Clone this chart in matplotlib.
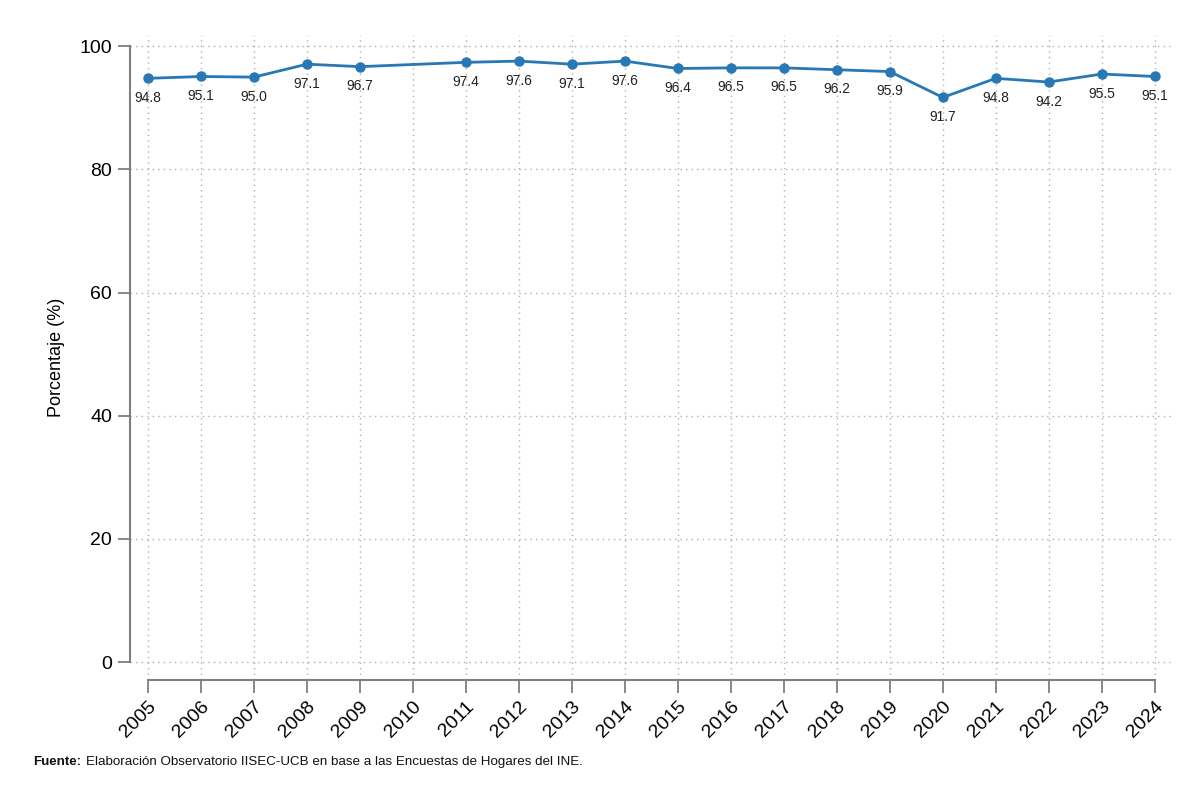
import matplotlib
matplotlib.use("Agg")
import matplotlib.pyplot as plt
from matplotlib import font_manager

years = [2005, 2006, 2007, 2008, 2009, 2011, 2012, 2013, 2014, 2015,
         2016, 2017, 2018, 2019, 2020, 2021, 2022, 2023, 2024]
values = [94.8, 95.1, 95.0, 97.1, 96.7, 97.4, 97.6, 97.1, 97.6, 96.4,
          96.5, 96.5, 96.2, 95.9, 91.7, 94.8, 94.2, 95.5, 95.1]
xticks = list(range(2005, 2025))
yticks = [0, 20, 40, 60, 80, 100]

names = {f.name for f in font_manager.fontManager.ttflist}
fam = "Liberation Sans Narrow" if "Liberation Sans Narrow" in names else "Liberation Sans"
plt.rcParams['font.family'] = [fam, 'DejaVu Sans']

fig = plt.figure(figsize=(12, 8.01), dpi=100)
ax = fig.add_axes([0.1083, 0.151, 0.869, 0.805])

line_c = '#2878b5'
ax.plot(years, values, color=line_c, lw=2, marker='o', ms=6.5, zorder=3)
for x, v in zip(years, values):
    ax.annotate(f"{v:.1f}", (x, v), xytext=(0, -9), textcoords='offset points',
                ha='center', va='top', fontsize=10, color='#222222')

ax.set_xlim(2004.66, 2024.34)
ax.set_ylim(-2.92, 101.8)
ax.set_xticks(xticks)
ax.set_xticklabels([str(y) for y in xticks], rotation=45, ha='right',
                   rotation_mode='anchor', fontsize=14)
ax.set_yticks(yticks)
ax.set_yticklabels([str(y) for y in yticks], fontsize=14)
ax.set_ylabel("Porcentaje (%)", fontsize=13, labelpad=10)

ax.grid(True, color='#b0b0b0', linestyle=(0, (1, 3)), lw=1)
ax.set_axisbelow(True)
for s in ['top', 'right']:
    ax.spines[s].set_visible(False)
for s in ['left', 'bottom']:
    ax.spines[s].set_color('#7f7f7f')
    ax.spines[s].set_linewidth(1.5)
ax.spines['left'].set_bounds(0, 100)
ax.spines['bottom'].set_bounds(2005, 2024)
ax.tick_params(axis='both', direction='out', length=9, width=1.3, color='#7f7f7f', pad=4)

t1 = fig.text(0.028, 0.045, "Fuente:", fontsize=9.6, fontweight='bold', color='#111111')
fig.canvas.draw()
bb = t1.get_window_extent()
fig.text((bb.x1 + 4) / fig.bbox.width, 0.045,
         "Elaboración Observatorio IISEC-UCB en base a las Encuestas de Hogares del INE.",
         fontsize=9.6, color='#111111')

fig.savefig("out.png", dpi=100, facecolor='white')
